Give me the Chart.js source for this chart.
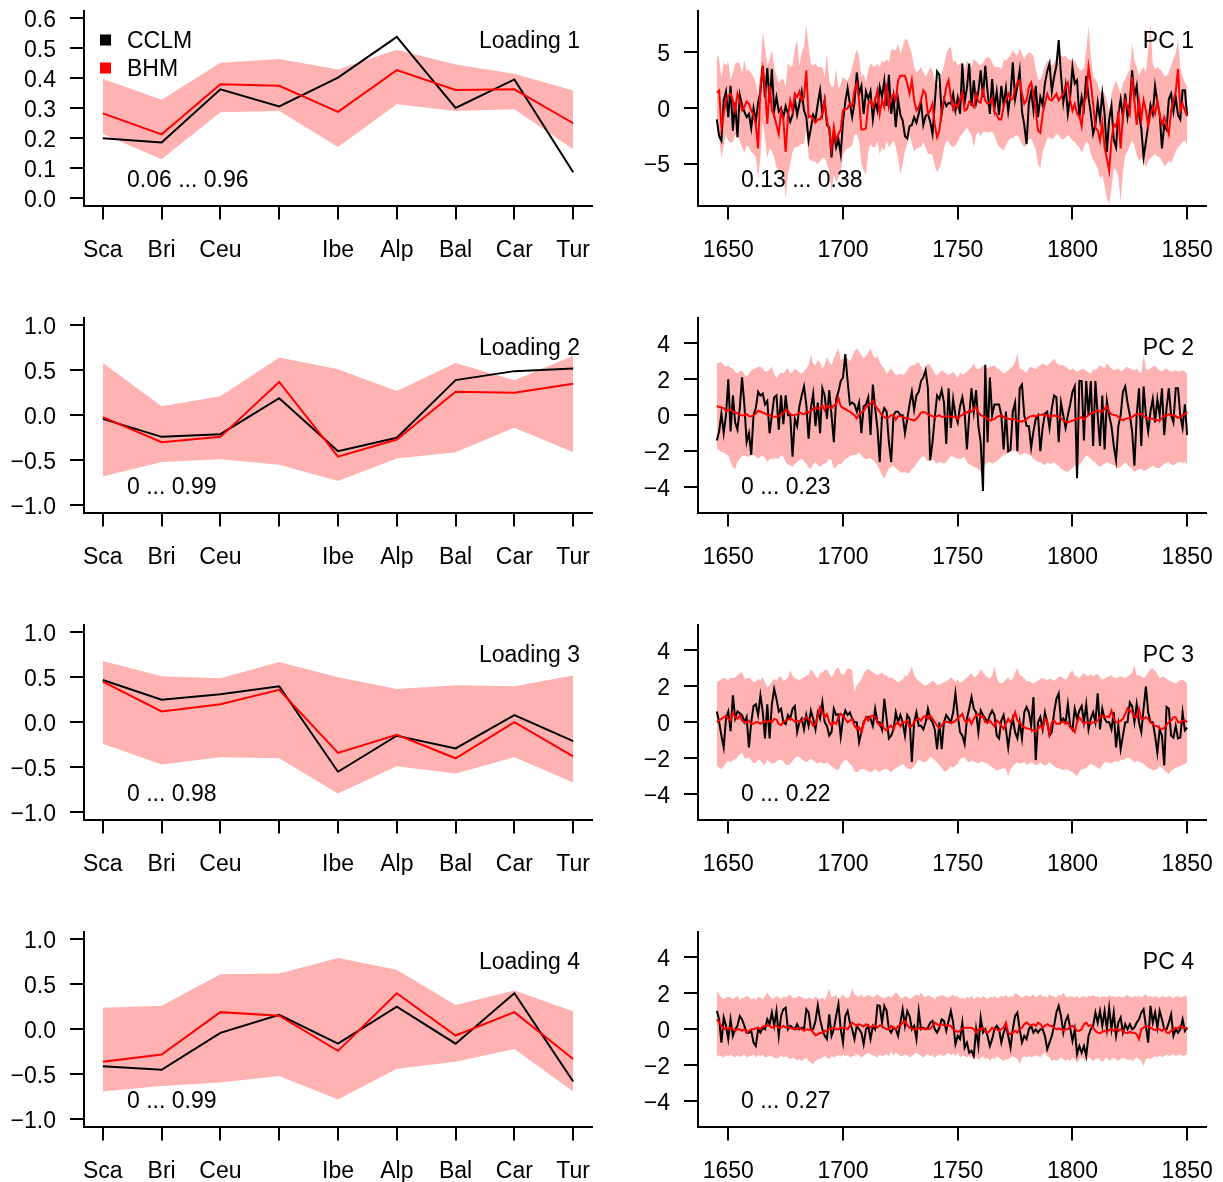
<!DOCTYPE html>
<html>
<head>
<meta charset="utf-8">
<title>Loadings and PCs</title>
<script src="https://cdn.jsdelivr.net/npm/chart.js@4.4.1/dist/chart.umd.min.js"></script>
<style>
  html, body { margin: 0; padding: 0; background: #fff; overflow: hidden; }
  #page { position: relative; width: 1223px; height: 1182px; }
  #page canvas { position: absolute; }
</style>
</head>
<body>
<div id="page"></div>
<script>
const regions = ['Sca', 'Bri', 'Ceu', '', 'Ibe', 'Alp', 'Bal', 'Car', 'Tur'];
const firstYear = 1645;
const lastYear = 1850;
const yearTicks = [1650, 1700, 1750, 1800, 1850];
const loading1Ticks = [0, 0.1, 0.2, 0.3, 0.4, 0.5, 0.6];
const loadingTicks = [-1, -0.5, 0, 0.5, 1];
const pc1Ticks = [-5, 0, 5];
const pcTicks = [-4, -2, 0, 2, 4];
const loadingRanges = ['0.06 ... 0.96', '0 ... 0.99', '0 ... 0.98', '0 ... 0.99'];
const pcRanges = ['0.13 ... 0.38', '0 ... 0.23', '0 ... 0.22', '0 ... 0.27'];

// loadings per region: CCLM, BHM mean, BHM band
const loading1Cclm = [0.200, 0.186, 0.363, 0.306, 0.402, 0.538, 0.301, 0.396, 0.087];
const loading1Bhm = [0.283, 0.213, 0.380, 0.375, 0.288, 0.427, 0.361, 0.363, 0.250];
const loading1Upper = [0.398, 0.328, 0.452, 0.464, 0.429, 0.495, 0.446, 0.415, 0.359];
const loading1Lower = [0.214, 0.130, 0.287, 0.291, 0.171, 0.313, 0.291, 0.297, 0.163];

const loading2Cclm = [-0.04, -0.24, -0.21, 0.19, -0.40, -0.25, 0.39, 0.49, 0.52];
const loading2Bhm = [-0.02, -0.30, -0.24, 0.37, -0.46, -0.27, 0.26, 0.25, 0.35];
const loading2Upper = [0.58, 0.10, 0.21, 0.64, 0.51, 0.27, 0.58, 0.39, 0.66];
const loading2Lower = [-0.68, -0.52, -0.49, -0.55, -0.73, -0.48, -0.41, -0.14, -0.41];

const loading3Cclm = [0.47, 0.25, 0.31, 0.40, -0.55, -0.15, -0.29, 0.08, -0.21];
const loading3Bhm = [0.45, 0.12, 0.20, 0.36, -0.34, -0.14, -0.40, 0.00, -0.38];
const loading3Upper = [0.68, 0.51, 0.49, 0.67, 0.50, 0.37, 0.41, 0.40, 0.52];
const loading3Lower = [-0.24, -0.47, -0.39, -0.40, -0.79, -0.49, -0.57, -0.39, -0.67];

const loading4Cclm = [-0.41, -0.45, -0.04, 0.16, -0.16, 0.25, -0.16, 0.40, -0.58];
const loading4Bhm = [-0.36, -0.28, 0.19, 0.15, -0.24, 0.40, -0.07, 0.19, -0.33];
const loading4Upper = [0.24, 0.26, 0.61, 0.62, 0.79, 0.66, 0.27, 0.43, 0.20];
const loading4Lower = [-0.69, -0.63, -0.59, -0.52, -0.78, -0.44, -0.36, -0.22, -0.69];

// principal components, one value per year 1645..1850
const pc1Cclm = [
  -1.0, -2.5, -2.9, 0.7, 1.5,
  -0.8, 2.0, -2.0, 0.5, -2.6, 1.2, 0.3, -0.3, -0.8, -0.5,
  -1.8, 0.0, -1.2, 0.5, 1.5, 3.8, 1.0, 3.6, 0.5, 3.5,
  -0.2, 1.0, -0.3, 0.0, -0.8, 0.2, -0.5, -1.2, -0.6, 0.8,
  -0.6, 0.4, 1.5, -0.2, -0.8, -2.9, -1.8, -0.6, -1.0, 0.4,
  1.6, -0.5, 0.7, -1.5, -1.7, -4.4, -2.0, -3.5, -2.8, -4.1,
  -1.2, 0.6, 1.8, 0.4, -0.8, 0.5, 3.2, 1.3, 2.0, -0.5,
  1.5, 0.8, 1.5, -1.0, 0.6, -0.2, 1.9, 1.0, 2.5, 0.2,
  3.0, -0.5, 1.0, -1.7, 0.8, -0.6, -1.1, -2.5, -2.7, -1.6,
  -1.5, -0.8, -1.3, -0.5, 0.5, -1.5, -0.7, -0.5, -1.2, -2.3,
  0.5, 3.3, 3.0, -0.5, 0.8, 0.2, 0.5, 0.4, 1.3, -0.2,
  0.9, -0.5, 4.0, 0.5, 1.8, 4.0, 0.2, 2.5, 0.5, 1.5,
  3.4, 1.0, 3.8, 1.5, -0.5, 2.6, 0.0, 1.5, -0.6, 2.0,
  0.3, 1.8, -0.3, 1.2, 4.1, 0.8, 2.0, 3.4, -0.3, -1.5,
  -3.2, 0.5, 1.5, -0.2, 2.0, -0.8, 1.0, 0.3, 2.2, 3.3,
  4.0, 1.5, 2.8, 3.8, 6.1, 3.0, 0.5, 2.0, -0.5, 1.0,
  3.7, 2.2, 2.5, -0.8, 1.0, 0.0, 2.9, 1.0, -0.5, -2.3,
  -1.5, 0.5, -1.0, 1.3, -0.5, -3.9, -1.0, 0.2, -2.8, -3.5,
  -0.5, 0.8, -0.8, 1.3, -0.8, 0.5, 3.4, 1.0, 2.0, -0.5,
  -1.8, -4.4, -3.0, -1.5, 0.3, -0.5, 2.0, 0.5, -0.5, -3.6,
  -1.5, -1.9, 0.8, 1.3, -0.3, 1.0, -0.6, -1.0, 1.6, 1.6,
  -0.7
];
const pc1Bhm = [
  1.4, 1.6, -1.7, -0.5, 0.7,
  1.1, 1.3, 0.7, -0.2, 1.3, 0.6, -0.2, 0.1, 0.6, 0.4,
  -0.2, -0.6, -1.5, -3.6, 1.9, 3.5, 1.9, -1.4, 2.0, -0.2,
  -0.6, -1.5, -2.3, -0.2, -1.0, -3.9, -0.8, 0.7, -0.2, 1.3,
  1.0, 1.5, 0.7, 1.0, 3.4, -0.8, -0.7, -1.0, -1.3, -1.0,
  -1.0, -0.5, 0.7, -1.1, -2.0, -3.6, -1.7, -2.9, -2.3, -1.9,
  -0.2, -0.1, 0.0, 0.4, 0.2, 1.6, 2.2, 0.7, -1.9, -1.9,
  -1.8, 0.4, 0.7, 0.1, 0.7, 1.6, -0.5, 0.7, 0.1, 2.2,
  0.1, 1.0, 1.3, 0.7, 2.5, 2.9, 2.9, 2.9, 2.2, 1.3,
  2.5, 0.7, -0.2, 0.1, 0.7, 1.6, 1.3, -0.5, -0.2, 0.4,
  -1.5, -2.6, -2.0, -0.2, 0.7, 1.9, 2.5, 1.0, -0.1, 0.4,
  0.1, 0.8, 1.4, -0.2, -0.1, 0.6, 0.4, 0.1, 1.3, 0.6,
  0.5, 1.6, 0.7, 0.4, 0.5, 0.9, -0.3, -0.6, -1.0, -1.0,
  0.2, 0.8, 1.3, 0.8, 0.8, 1.7, 2.3, 2.5, 1.3, 0.4,
  0.7, 1.9, 2.3, 1.3, -0.2, -2.0, -2.2, -0.5, 0.4, 1.3,
  0.8, 0.7, 1.0, 1.3, 0.7, 1.0, 1.3, 1.9, 2.3, 0.7,
  -0.2, 0.4, -0.5, -0.7, -1.6, 0.5, 1.0, 3.7, 2.2, 0.4,
  -1.7, -2.0, -2.9, -1.3, -3.5, -4.5, -5.6, -2.9, -1.4, -1.7,
  -0.5, -3.6, -0.5, 0.7, 0.1, -0.5, 2.8, 0.7, -1.5, 0.7,
  -1.0, 0.7, -0.2, -1.6, -0.5, 0.1, -0.5, 0.7, -0.6, -1.5,
  -0.8, -1.5, -2.3, -0.2, 0.7, 1.5, 3.5, -0.2, 0.4, -0.2,
  -0.7
];
const pc1Upper = [
  4.9, 4.3, 2.8, 4.1, 3.8,
  4.2, 2.6, 3.1, 4.0, 4.1, 4.0, 3.2, 4.3, 3.3, 3.5,
  3.1, 2.8, 2.3, 1.1, 3.4, 6.8, 5.5, 3.8, 4.3, 5.2,
  3.7, 2.9, 2.3, 2.6, 2.6, 1.9, 4.1, 3.7, 3.8, 5.2,
  6.1, 3.8, 5.0, 5.5, 7.4, 5.5, 4.0, 3.8, 4.0, 3.7,
  3.7, 3.7, 2.8, 4.9, 2.5, 1.9, 2.0, 3.5, 1.7, 2.2,
  2.8, 2.6, 2.5, 2.9, 3.7, 4.6, 5.3, 4.6, 2.8, 3.1,
  2.3, 3.5, 4.0, 3.8, 3.7, 4.0, 3.7, 4.3, 4.1, 4.4,
  4.1, 5.3, 5.2, 5.2, 5.8, 4.9, 5.5, 6.2, 6.1, 5.5,
  4.9, 3.7, 3.2, 3.4, 3.7, 3.2, 2.8, 3.2, 3.7, 3.4,
  2.5, 2.2, 2.0, 3.1, 3.8, 4.9, 5.3, 5.5, 4.1, 4.3,
  3.8, 4.0, 4.1, 3.5, 4.3, 3.8, 3.7, 4.4, 4.2, 4.0,
  3.8, 4.1, 4.4, 4.6, 4.5, 4.1, 3.7, 3.7, 3.7, 3.5,
  4.3, 4.3, 4.5, 4.7, 5.2, 4.9, 4.7, 5.4, 4.9, 4.4,
  4.8, 5.0, 4.9, 4.7, 3.5, 2.6, 2.5, 3.1, 3.8, 4.2,
  4.1, 3.8, 4.0, 4.6, 5.0, 4.7, 4.6, 4.7, 4.4, 4.3,
  4.4, 4.2, 3.8, 3.5, 3.3, 3.7, 5.2, 7.3, 4.7, 2.9,
  2.6, 2.2, 1.4, 1.6, 1.3, 0.7, -0.2, 1.3, 2.0, 2.5,
  1.9, 1.3, 2.3, 2.6, 3.1, 3.5, 5.8, 4.3, 3.7, 2.9,
  3.4, 3.7, 3.2, 5.2, 7.6, 4.0, 3.5, 3.7, 3.5, 3.3,
  2.9, 2.9, 3.2, 3.8, 4.4, 4.9, 6.2, 3.7, 2.8, 2.3,
  2.0
];
const pc1Lower = [
  -2.0, -2.7, -4.4, -3.3, -2.4,
  -2.9, -3.1, -3.0, -2.4, -2.3, -2.9, -3.5, -4.0, -3.3, -3.5,
  -3.9, -4.1, -4.4, -6.3, -4.4, -1.3, -2.6, -4.5, -3.6, -3.8,
  -4.4, -5.3, -5.6, -5.8, -5.9, -8.1, -5.9, -5.0, -3.9, -3.5,
  -3.5, -3.3, -3.2, -3.2, -1.9, -4.4, -4.7, -4.7, -4.8, -5.0,
  -4.7, -4.5, -4.4, -5.0, -5.6, -7.5, -5.9, -6.6, -6.2, -5.7,
  -4.2, -3.8, -3.6, -3.5, -3.3, -2.4, -2.3, -2.9, -5.0, -5.6,
  -5.9, -3.9, -3.2, -3.5, -3.5, -2.9, -4.1, -3.5, -3.8, -2.9,
  -3.5, -3.2, -2.9, -3.5, -4.5, -5.9, -5.0, -3.8, -3.2, -2.4,
  -3.2, -3.9, -3.6, -3.5, -3.5, -3.0, -3.5, -4.1, -4.1, -4.2,
  -5.1, -5.7, -5.4, -4.7, -3.6, -2.9, -3.0, -3.3, -3.5, -3.3,
  -3.0, -2.5, -2.3, -2.0, -1.7, -2.1, -2.4, -3.5, -2.4, -2.1,
  -2.5, -2.1, -2.1, -2.2, -2.1, -2.1, -2.4, -3.1, -3.4, -3.6,
  -3.8, -3.3, -2.9, -2.7, -2.7, -2.5, -2.4, -2.7, -3.2, -3.5,
  -3.3, -2.8, -2.7, -3.2, -3.7, -5.0, -5.4, -3.9, -3.3, -2.7,
  -2.6, -2.8, -2.6, -2.3, -2.4, -2.7, -2.8, -2.6, -2.4, -2.6,
  -2.9, -3.0, -3.3, -3.5, -4.0, -3.5, -3.0, -3.2, -4.1, -4.6,
  -5.0, -5.4, -6.3, -6.0, -6.9, -8.1, -8.6, -7.2, -5.4, -5.5,
  -6.2, -8.4, -5.7, -4.2, -3.9, -3.3, -2.9, -3.3, -4.2, -4.7,
  -4.4, -4.8, -5.3, -4.7, -4.5, -4.3, -4.1, -4.3, -4.4, -4.7,
  -5.2, -5.0, -4.7, -4.9, -4.4, -3.9, -3.5, -3.3, -3.0, -2.9,
  -3.3
];

const pc2Cclm = [
  -1.4, -0.9, 0.1, -1.0, 0.0,
  2.0, -0.9, 1.1, -0.4, -0.8, 0.4, 2.1, 0.6, -1.5, -1.0,
  -2.2, 0.0, 0.4, 1.3, 1.1, 1.2, 0.6, 0.8, -1.0, 0.0,
  1.0, 1.1, -0.8, 1.1, -0.5, 1.1, 0.0, 0.0, -2.3, -0.2,
  -0.6, 0.5, 1.1, 1.6, 0.6, -1.3, 0.4, 1.2, -0.6, 0.7,
  -1.0, 1.5, 1.1, -0.2, 1.4, 0.0, -1.5, 0.9, 1.3, 1.9,
  2.1, 3.4, 1.9, 0.6, 0.7, 0.6, 0.2, 0.7, -1.0, 0.5,
  0.6, 1.0, -1.1, 1.7, 0.4, -0.7, -2.6, 0.0, 0.4, 0.2,
  -1.5, -2.6, 0.0, 0.2, 0.2, 0.0, 0.0, -1.0, -0.2, 0.6,
  1.3, 0.3, 1.1, 1.3, 1.9, 2.1, 2.5, 1.5, -2.5, -1.5,
  -0.1, 1.1, 0.9, 1.4, 0.7, -1.6, 1.5, -0.7, 0.9, 0.0,
  -0.4, 0.5, 1.0, 0.2, -1.9, 0.0, 1.5, 0.2, 1.4, -0.6,
  -1.5, -4.2, 2.8, -1.5, 2.1, 0.0, 0.6, 0.6, 0.6, 0.0,
  -1.9, 0.2, -2.0, -1.9, 0.2, 0.7, -2.0, 1.5, 1.7, 0.0,
  -0.6, -0.6, -1.8, -0.9, -0.2, 0.0, -2.0, -0.7, 0.1, 0.2,
  -0.7, 0.4, 1.1, 1.0, -1.5, 0.7, 0.0, -0.7, 0.0, 0.6,
  1.3, 1.6, -3.5, 1.9, 1.9, -1.4, 1.9, 0.0, 1.9, -1.7,
  1.9, 0.0, -1.7, 1.1, -1.9, 0.8, 0.0, -0.6, -1.7, -2.5,
  -0.6, 0.0, 1.3, 1.6, 0.7, 0.0, -0.9, -2.8, 0.0, 1.5,
  -1.7, 1.6, 0.0, -0.9, 0.2, 0.9, -0.4, 0.9, 0.0, 1.5,
  -1.1, 0.4, 1.5, 0.0, -0.4, 1.5, 1.5, 0.0, -0.7, 0.6,
  -1.1
];
const pc2Bhm = [
  0.52, 0.46, 0.43, 0.40, 0.22,
  0.28, 0.33, 0.20, 0.17, 0.10, 0.02, 0.00, 0.00, 0.07, -0.05,
  -0.07, 0.00, 0.10, 0.25, 0.20, 0.15, 0.10, 0.02, 0.00, -0.05,
  -0.09, -0.09, -0.05, 0.05, 0.10, 0.30, 0.25, 0.05, 0.00, 0.02,
  0.05, 0.15, 0.10, 0.05, 0.18, 0.15, 0.25, 0.35, 0.42, 0.35,
  0.40, 0.55, 0.28, 0.55, 0.45, 0.38, 0.55, 0.60, 0.95, 0.50,
  0.40, 0.35, 0.25, 0.20, 0.10, 0.00, -0.18, 0.05, 0.15, 0.25,
  0.45, 0.55, 0.65, 0.80, 0.55, 0.35, 0.20, 0.00, -0.10, -0.18,
  -0.10, 0.00, 0.00, -0.25, -0.05, -0.05, -0.10, -0.15, -0.18, -0.20,
  -0.25, -0.30, -0.20, -0.05, 0.15, 0.18, 0.15, 0.05, 0.00, -0.05,
  -0.10, -0.05, 0.00, -0.10, -0.08, -0.05, -0.05, -0.08, -0.09, -0.09,
  -0.22, -0.05, 0.02, 0.10, 0.15, 0.25, 0.18, 0.35, 0.46, 0.15,
  0.00, -0.05, -0.10, -0.22, -0.28, -0.25, -0.20, -0.10, -0.05, 0.00,
  -0.10, -0.15, -0.20, -0.22, -0.18, -0.25, -0.30, -0.35, -0.35, -0.30,
  -0.20, -0.10, -0.05, -0.02, -0.08, 0.00, 0.02, 0.05, -0.02, 0.00,
  -0.05, -0.05, 0.00, -0.05, -0.05, -0.18, -0.30, -0.35, -0.40, -0.35,
  -0.30, -0.25, -0.20, -0.15, -0.10, -0.25, -0.10, 0.00, 0.10, 0.15,
  0.20, 0.28, 0.20, 0.20, 0.35, 0.50, 0.20, 0.05, 0.02, 0.00,
  -0.10, -0.20, -0.28, -0.20, -0.18, -0.15, -0.10, 0.00, 0.05, 0.05,
  0.10, -0.05, -0.10, -0.18, -0.18, -0.20, -0.25, -0.28, -0.30, -0.15,
  -0.05, 0.00, 0.05, 0.00, 0.00, -0.05, -0.15, -0.10, 0.00, 0.05,
  0.18
];
const pc2Upper = [
  2.87, 2.93, 2.96, 2.78, 2.69,
  2.78, 2.63, 2.59, 2.41, 2.31, 2.44, 2.50, 2.26, 2.13, 2.31,
  2.50, 2.56, 2.63, 2.69, 2.69, 2.59, 2.41, 2.44, 2.54, 2.69,
  2.31, 2.04, 2.26, 2.37, 2.31, 2.50, 2.63, 2.31, 2.41, 2.59,
  2.50, 2.37, 2.31, 2.44, 2.59, 2.78, 3.37, 2.87, 2.78, 3.06,
  2.96, 2.59, 2.78, 3.24, 2.96, 2.78, 3.15, 3.48, 3.70, 3.06,
  3.15, 3.30, 3.15, 3.00, 3.24, 3.56, 3.70, 3.56, 3.33, 3.15,
  3.30, 3.48, 3.70, 3.37, 3.15, 3.30, 2.96, 2.74, 2.59, 2.31,
  2.44, 2.59, 2.41, 2.22, 2.26, 2.31, 2.22, 2.31, 2.50, 2.69,
  2.78, 2.78, 2.87, 2.96, 2.69, 2.44, 2.69, 2.87, 2.78, 2.56,
  2.31, 2.22, 2.37, 2.50, 2.41, 2.31, 2.22, 2.31, 2.41, 2.26,
  2.07, 2.37, 2.26, 2.31, 2.41, 2.56, 2.67, 2.87, 2.59, 2.56,
  2.63, 2.78, 2.69, 2.59, 2.69, 2.74, 2.78, 2.63, 2.56, 2.44,
  2.31, 2.41, 2.50, 2.63, 2.74, 2.96, 3.43, 2.59, 2.56, 2.44,
  2.37, 2.59, 2.69, 2.63, 2.56, 2.69, 2.78, 2.87, 2.81, 2.74,
  2.87, 3.00, 3.15, 2.93, 2.81, 2.78, 2.78, 2.69, 2.59, 2.50,
  2.59, 2.50, 2.41, 2.50, 2.56, 2.59, 2.44, 2.37, 2.31, 2.56,
  2.50, 2.63, 2.78, 2.69, 2.59, 2.87, 2.74, 2.59, 2.50, 2.56,
  2.59, 2.44, 2.50, 2.63, 2.69, 2.59, 2.56, 2.50, 2.59, 2.41,
  2.31, 3.33, 2.59, 2.50, 2.63, 2.69, 2.78, 2.59, 2.50, 2.41,
  2.56, 2.59, 2.50, 2.41, 2.44, 2.50, 2.41, 2.44, 2.50, 2.41,
  2.31
];
const pc2Lower = [
  -1.85, -1.94, -2.04, -2.07, -2.19,
  -2.22, -2.59, -2.87, -3.00, -2.59, -2.41, -2.26, -2.22, -2.31, -2.31,
  -2.22, -2.19, -2.31, -2.41, -2.31, -2.22, -2.37, -2.59, -2.44, -2.41,
  -2.41, -2.37, -2.41, -2.22, -2.31, -2.59, -2.74, -2.78, -2.87, -2.69,
  -2.59, -2.50, -2.41, -2.56, -2.69, -2.93, -2.96, -2.74, -2.59, -2.78,
  -2.87, -2.74, -2.69, -2.59, -2.41, -2.50, -2.96, -2.87, -2.69, -2.74,
  -2.59, -2.41, -2.37, -2.26, -2.22, -2.22, -2.19, -2.07, -2.22, -2.37,
  -2.44, -2.41, -2.37, -2.50, -2.59, -2.78, -3.06, -3.30, -3.52, -3.19,
  -2.96, -2.87, -2.81, -2.96, -3.06, -3.15, -3.19, -3.15, -3.24, -3.19,
  -3.00, -2.87, -2.69, -2.50, -2.37, -2.26, -2.37, -2.59, -2.50, -2.41,
  -2.59, -2.69, -2.59, -2.63, -2.69, -2.59, -2.41, -2.26, -2.31, -2.37,
  -2.41, -2.44, -2.37, -2.31, -2.59, -2.74, -2.78, -2.87, -2.93, -3.00,
  -3.15, -2.93, -2.74, -2.63, -2.59, -2.69, -2.63, -2.56, -2.44, -2.31,
  -2.22, -2.15, -2.11, -2.04, -2.00, -1.94, -2.04, -2.19, -2.22, -2.07,
  -2.15, -2.19, -2.26, -2.41, -2.50, -2.59, -2.59, -2.69, -2.78, -2.63,
  -2.69, -2.69, -2.59, -2.74, -2.81, -2.96, -3.06, -3.11, -3.15, -3.06,
  -2.93, -2.78, -2.87, -2.74, -2.59, -2.41, -2.22, -2.31, -2.41, -2.56,
  -2.63, -2.78, -2.87, -2.78, -2.69, -2.59, -2.67, -2.74, -2.78, -2.87,
  -2.96, -2.87, -2.74, -2.63, -2.74, -2.87, -3.00, -3.15, -3.06, -3.00,
  -2.96, -3.11, -3.06, -2.96, -2.89, -2.81, -2.87, -2.96, -2.93, -2.81,
  -2.70, -2.63, -2.59, -2.74, -2.78, -2.70, -2.63, -2.59, -2.67, -2.59,
  -2.74
];

const pc3Cclm = [
  0.6, 0.0, -0.74, -1.4, 0.2,
  0.6, -0.5, 1.5, 0.2, 0.6, 0.5, 0.4, 0.0, 0.3, -1.4,
  0.0, 0.9, 1.0, 0.4, 1.5, 0.6, -0.9, 1.0, -0.9, 1.0,
  1.85, 1.3, 0.6, 0.75, 0.0, -0.1, 0.4, 0.2, 0.75, 0.9,
  -0.55, 0.0, 0.2, -0.4, 0.4, -0.2, 0.65, 0.2, -0.4, 0.55,
  0.2, 1.1, 0.0, -0.2, -0.74, -0.55, 0.75, 0.4, 0.45, -0.8,
  0.2, 0.65, 0.4, 0.55, 0.2, 0.0, 0.0, -1.1, -0.55, 0.0,
  0.2, 0.3, 0.2, -0.2, 0.75, 0.0, 0.0, -0.4, 1.3, 0.2,
  -0.9, -0.74, -0.4, 0.55, 0.0, 0.4, 0.0, -0.74, 0.4, 0.2,
  -2.2, 0.0, 0.55, -0.2, -0.2, -0.4, 0.0, 0.75, 0.2, 0.0,
  -0.4, -1.5, 0.0, -1.5, 0.0, 0.4, 0.2, 0.0, 0.55, 1.6,
  0.4, -0.55, -0.74, -1.2, 0.2, 0.75, 1.4, 0.75, 0.55, -0.55,
  0.65, 0.4, 0.2, 0.0, 0.4, 0.65, 0.4, -0.74, -0.9, 0.1,
  0.4, -0.4, -1.4, -0.4, 0.2, -0.55, -0.9, 0.0, -0.9, 0.55,
  0.85, 0.55, -0.2, 1.4, -2.1, 0.0, 0.3, -0.4, 0.55, 0.0,
  -0.74, -0.55, 0.55, 1.3, 1.6, 0.0, 0.2, 0.0, 1.0, -0.2,
  -0.4, 0.75, 0.2, 0.65, 0.9, 0.0, 1.0, -0.4, 0.2, 0.55,
  0.0, 1.6, -0.4, 0.75, 0.2, 0.0, 0.0, -0.4, 0.55, -1.4,
  -0.2, -1.5, -0.74, 0.0, 0.0, 1.1, 0.9, 0.0, 1.0, 0.0,
  -0.55, 0.75, 2.0, 0.55, 0.0, 0.0, -0.74, -1.7, -0.4, -0.74,
  -2.4, 0.85, 0.75, -0.74, -0.85, -0.2, -0.9, -0.85, 0.55, -0.45,
  -0.3
];
const pc3Bhm = [
  0.00, 0.09, 0.19, 0.28, 0.37,
  0.19, 0.09, 0.55, 0.28, 0.19, 0.37, 0.09, 0.00, 0.00, 0.09,
  -0.09, -0.09, 0.00, 0.00, -0.09, 0.00, 0.09, 0.00, 0.09, 0.00,
  0.19, 0.15, -0.09, -0.15, 0.00, 0.09, 0.15, 0.22, 0.15, 0.04,
  0.09, 0.00, 0.09, 0.19, 0.28, 0.19, 0.04, -0.19, -0.09, 0.37,
  0.83, 0.55, 0.28, 0.46, 0.00, -0.19, 0.00, -0.09, 0.28, 0.46,
  0.37, 0.19, 0.00, 0.09, 0.19, -0.19, -0.37, -0.28, -0.55, -0.09,
  0.28, 0.09, 0.33, 0.37, 0.28, 0.00, -0.19, -0.09, -0.37, -0.46,
  -0.28, -0.19, -0.37, -0.09, 0.00, -0.22, 0.00, 0.00, 0.09, -0.28,
  -0.19, 0.00, 0.15, 0.22, 0.09, 0.28, 0.37, 0.19, 0.37, 0.19,
  0.00, -0.19, -0.33, -0.19, 0.00, 0.04, 0.00, -0.04, 0.00, 0.09,
  0.22, 0.33, 0.46, 0.09, 0.00, 0.19, -0.09, 0.19, 0.37, 0.46,
  0.28, 0.33, 0.00, 0.00, 0.09, -0.09, -0.22, 0.09, 0.00, -0.19,
  -0.37, -0.09, 0.19, 0.00, 0.19, 0.55, 0.09, 0.00, -0.19, -0.28,
  -0.33, -0.37, -0.41, -0.46, -0.52, -0.37, -0.19, -0.37, 0.19, 0.00,
  -0.65, 0.00, 0.09, -0.09, -0.09, 0.00, 0.04, -0.09, 0.00, -0.28,
  -0.37, -0.55, 0.00, 0.28, 0.09, -0.09, 0.00, 0.00, -0.09, 0.00,
  0.00, 0.09, 0.28, 0.37, 0.28, 0.33, 0.28, 0.65, 0.19, 0.00,
  0.00, 0.09, 0.19, 0.46, 0.78, 0.65, 0.55, 0.28, 0.28, 0.74,
  0.19, 0.19, 0.28, 0.19, 0.00, -0.09, -0.19, -0.22, -0.33, -0.37,
  -0.33, -0.15, 0.00, 0.09, 0.28, 0.28, 0.00, 0.00, 0.09, 0.10,
  0.00
];
const pc3Upper = [
  2.22, 2.30, 2.37, 2.48, 2.41,
  2.33, 2.48, 2.44, 2.50, 2.59, 2.74, 2.78, 2.44, 2.41, 2.50,
  2.37, 2.22, 2.26, 2.41, 2.31, 2.50, 2.22, 1.94, 2.04, 2.26,
  2.41, 2.31, 2.50, 2.56, 2.31, 2.37, 2.50, 2.87, 2.59, 2.44,
  2.41, 2.31, 2.44, 2.50, 2.59, 2.63, 2.93, 2.81, 2.56, 2.44,
  2.69, 2.78, 2.87, 2.96, 2.69, 2.50, 2.69, 2.96, 3.06, 2.74,
  2.63, 2.78, 3.00, 2.96, 2.87, 1.67, 2.04, 2.22, 2.37, 2.69,
  2.87, 2.96, 2.87, 2.78, 2.69, 2.63, 2.69, 2.78, 2.63, 2.59,
  2.44, 2.50, 2.41, 2.31, 2.22, 2.30, 2.37, 2.59, 2.56, 2.78,
  3.11, 2.59, 2.41, 2.31, 2.19, 2.07, 2.04, 2.11, 2.19, 2.30,
  2.22, 2.07, 2.11, 2.15, 2.22, 2.28, 2.37, 2.50, 2.37, 2.22,
  2.37, 2.19, 2.26, 2.37, 2.50, 2.59, 2.74, 2.50, 2.56, 2.69,
  2.96, 2.78, 2.63, 2.50, 2.41, 2.59, 3.11, 2.50, 2.22, 2.15,
  2.22, 2.37, 2.48, 2.33, 2.41, 2.78, 3.00, 2.63, 2.56, 2.44,
  2.26, 2.30, 2.22, 2.15, 2.22, 2.31, 2.41, 2.44, 2.41, 2.33,
  2.41, 2.37, 2.31, 2.41, 2.50, 2.56, 2.44, 2.37, 2.50, 2.78,
  2.87, 2.59, 2.56, 2.44, 2.59, 2.74, 2.59, 2.56, 2.67, 2.56,
  2.63, 2.69, 2.50, 2.37, 2.41, 2.50, 2.56, 2.59, 2.48, 2.44,
  2.50, 2.56, 2.50, 2.44, 2.56, 2.63, 2.78, 3.15, 2.59, 2.63,
  2.56, 2.44, 2.56, 2.78, 2.96, 3.00, 2.87, 2.69, 2.44, 2.52,
  2.50, 2.41, 2.33, 2.26, 2.19, 2.15, 2.26, 2.33, 2.37, 2.26,
  2.15
];
const pc3Lower = [
  -2.41, -2.52, -2.59, -2.44, -2.26,
  -2.15, -2.22, -2.11, -2.04, -1.96, -1.81, -1.70, -2.00, -2.00, -1.94,
  -2.13, -2.26, -2.26, -2.07, -2.13, -2.31, -2.37, -2.07, -2.19, -2.30,
  -2.26, -2.19, -2.07, -2.11, -2.15, -2.37, -2.37, -2.30, -2.15, -2.00,
  -1.89, -1.93, -2.04, -2.15, -2.22, -2.11, -2.04, -2.11, -2.22, -2.30,
  -2.22, -2.26, -2.31, -2.22, -2.33, -2.44, -2.56, -2.63, -2.69, -2.37,
  -2.22, -2.07, -2.15, -2.30, -2.41, -2.74, -2.78, -2.70, -2.59, -2.59,
  -2.65, -2.70, -2.78, -2.70, -2.59, -2.69, -2.78, -2.67, -2.59, -2.59,
  -2.69, -2.78, -2.65, -2.56, -2.48, -2.41, -2.30, -2.44, -2.56, -2.59,
  -2.59, -2.44, -2.26, -2.07, -2.15, -2.22, -2.19, -2.11, -1.93, -2.00,
  -2.11, -2.22, -2.37, -2.52, -2.74, -2.70, -2.59, -2.44, -2.52, -2.41,
  -2.30, -2.04, -2.00, -1.94, -2.13, -2.22, -2.13, -2.19, -2.22, -2.30,
  -2.19, -2.19, -2.26, -2.31, -2.41, -2.50, -2.59, -2.69, -2.63, -2.59,
  -2.52, -2.59, -3.00, -2.59, -2.44, -2.30, -2.22, -2.30, -2.26, -2.22,
  -2.37, -2.30, -2.22, -2.30, -2.37, -2.37, -2.22, -2.33, -2.41, -2.33,
  -2.22, -2.33, -2.44, -2.52, -2.56, -2.59, -2.67, -2.63, -2.63, -2.70,
  -2.78, -2.89, -3.00, -2.74, -2.63, -2.59, -2.52, -2.41, -2.31, -2.37,
  -2.44, -2.52, -2.59, -2.37, -2.22, -2.22, -2.26, -2.30, -2.19, -2.15,
  -2.22, -2.07, -2.11, -2.04, -1.96, -2.00, -2.11, -2.22, -2.15, -2.19,
  -2.26, -2.31, -2.44, -2.52, -2.59, -2.67, -2.67, -2.59, -2.44, -2.52,
  -2.67, -2.78, -2.87, -2.70, -2.59, -2.54, -2.48, -2.44, -2.37, -2.31,
  -2.22
];

const pc4Cclm = [
  1.02, 0.55, -0.74, 0.65, 0.19,
  -0.55, 0.55, -0.37, 0.00, 0.19, 0.74, 0.55, 0.19, -0.19, -0.19,
  -0.09, -0.74, -0.93, 0.00, -0.19, 0.09, 0.00, 0.55, 0.28, 0.93,
  0.19, 1.02, -0.37, 0.74, 1.11, 1.20, 0.00, 0.19, 0.09, 0.00,
  0.28, 0.00, 0.09, 0.00, 1.11, 0.93, 0.00, 0.00, 0.46, 1.33,
  0.55, 0.00, -0.37, -0.55, 0.83, -0.37, 0.00, 0.74, 1.39, 0.00,
  -0.74, 0.74, 1.02, 0.37, 0.00, -0.55, 0.19, 0.00, -0.19, -0.83,
  0.00, 0.19, -0.55, 0.19, 0.00, 1.33, 1.30, 0.37, 1.30, 1.02,
  0.00, -0.19, 0.09, 0.00, -0.37, 0.37, 1.11, 0.19, 1.02, 0.74,
  0.00, 0.19, -0.55, 1.02, 0.00, 0.09, 0.00, 0.09, 0.37, 0.46,
  0.00, -0.19, 0.09, 0.55, 0.46, -0.09, 0.46, 1.02, 0.37, -0.83,
  -0.37, -0.55, 0.37, -1.02, -0.74, -1.30, -1.20, -1.48, 0.00, -0.93,
  0.65, -0.19, 0.00, -0.37, -0.93, -0.55, 0.00, 0.19, 0.00, -0.74,
  -0.19, 0.19, -0.37, -1.02, 0.00, 0.74, 0.93, 0.00, -0.74, -0.37,
  -0.55, 0.00, 0.19, -0.19, 0.00, -0.19, 0.00, 0.00, -0.37, -1.11,
  -0.74, -0.37, 0.19, 0.93, 1.30, 0.74, -0.19, 0.46, 0.74, 0.09,
  -0.65, 0.00, -1.39, -0.93, -1.30, -0.93, -1.48, -0.37, 0.00, 0.19,
  0.93, 0.37, 1.02, 0.19, 1.02, 0.00, 1.20, 0.00, 0.93, -0.37,
  0.37, 0.65, -0.19, 0.28, 0.00, 0.28, 0.00, 0.09, 0.37, 0.55,
  0.93, 1.11, 0.19, -0.74, 1.30, 0.37, 0.93, 0.09, 1.02, 0.55,
  0.00, 0.00, 0.37, 0.83, -0.37, 0.00, -0.19, 0.00, 0.55, -0.09,
  0.10
];
const pc4Bhm = [
  0.55, 0.37, 0.19, 0.00, 0.09,
  0.00, 0.09, 0.00, -0.09, 0.00, 0.00, -0.09, 0.00, -0.19, -0.09,
  0.00, 0.00, 0.04, 0.09, 0.00, 0.15, 0.19, 0.22, 0.19, 0.09,
  0.15, 0.19, 0.09, 0.09, 0.19, 0.09, 0.13, 0.07, 0.04, 0.00,
  0.00, 0.07, 0.00, -0.09, 0.00, -0.04, 0.00, -0.19, -0.33, -0.28,
  -0.19, -0.22, -0.09, -0.09, 0.00, 0.04, 0.09, 0.00, 0.00, 0.09,
  0.04, 0.09, 0.00, 0.19, 0.37, 0.28, 0.19, 0.28, 0.22, 0.15,
  0.28, 0.19, 0.09, 0.19, 0.19, 0.09, 0.22, 0.19, 0.07, 0.00,
  0.00, 0.19, 0.09, 0.00, 0.19, 0.22, 0.37, 0.46, 0.22, 0.09,
  0.04, 0.00, -0.04, 0.09, 0.00, 0.04, 0.04, 0.00, 0.04, 0.19,
  0.37, 0.28, 0.19, 0.28, 0.22, 0.19, 0.22, 0.19, 0.00, -0.09,
  -0.15, -0.09, 0.04, 0.09, 0.09, 0.09, 0.09, 0.00, -0.19, 0.00,
  0.00, 0.09, -0.09, -0.19, -0.09, 0.09, 0.00, 0.00, -0.09, 0.00,
  0.09, 0.37, -0.19, -0.28, -0.19, -0.09, -0.19, 0.00, 0.09, 0.28,
  0.37, 0.28, 0.19, 0.28, 0.19, 0.37, 0.28, 0.09, 0.19, 0.28,
  0.19, 0.19, 0.09, 0.00, 0.04, 0.00, -0.09, 0.00, 0.00, 0.15,
  0.19, 0.09, -0.09, -0.09, 0.00, 0.28, 0.37, 0.19, 0.22, 0.09,
  -0.09, -0.19, -0.22, -0.15, -0.09, -0.15, -0.04, 0.00, -0.09, 0.04,
  -0.09, 0.00, -0.09, -0.19, -0.22, -0.15, -0.19, -0.19, -0.28, -0.55,
  0.00, 0.09, 0.19, 0.15, 0.09, 0.00, -0.04, 0.00, 0.00, -0.09,
  0.04, -0.19, -0.22, -0.09, 0.00, 0.09, 0.04, 0.19, 0.09, 0.09,
  -0.05
];
const pc4Upper = [
  2.13, 1.94, 1.76, 1.67, 1.76,
  1.80, 1.76, 1.67, 1.76, 1.85, 1.63, 1.72, 1.76, 1.85, 1.80,
  1.67, 1.72, 1.63, 1.80, 1.76, 1.67, 1.85, 2.04, 1.85, 1.67,
  1.72, 1.85, 1.76, 1.67, 1.80, 1.76, 1.85, 1.94, 1.76, 1.72,
  1.80, 1.85, 1.76, 1.72, 1.67, 1.76, 1.72, 1.67, 1.85, 1.72,
  1.67, 1.76, 1.63, 1.85, 2.26, 1.76, 1.85, 1.90, 1.67, 1.80,
  1.94, 1.76, 1.72, 1.85, 2.26, 1.94, 1.85, 1.80, 1.94, 1.76,
  1.85, 1.90, 1.85, 1.76, 1.85, 1.94, 1.85, 1.76, 1.72, 1.80,
  1.85, 1.76, 1.90, 2.04, 1.94, 1.76, 1.72, 1.85, 1.80, 1.67,
  1.76, 1.85, 1.94, 1.85, 2.04, 1.85, 1.76, 1.90, 1.85, 1.76,
  1.67, 1.80, 1.85, 1.90, 1.85, 1.80, 1.76, 1.85, 1.90, 1.80,
  1.85, 1.70, 1.76, 1.67, 1.80, 1.72, 1.85, 1.67, 1.76, 1.80,
  1.72, 1.85, 1.76, 1.67, 1.80, 1.76, 1.85, 1.72, 1.76, 1.85,
  1.80, 1.90, 1.76, 1.85, 1.80, 2.00, 1.94, 1.85, 1.76, 1.85,
  1.90, 1.80, 1.85, 1.94, 1.76, 1.85, 1.94, 1.80, 1.85, 1.76,
  1.94, 1.85, 1.80, 1.72, 1.94, 1.85, 2.04, 1.85, 1.76, 1.85,
  1.80, 1.76, 1.85, 1.72, 1.80, 1.85, 1.76, 1.85, 1.80, 1.90,
  1.80, 1.85, 1.72, 1.85, 1.80, 1.76, 1.90, 1.80, 1.85, 1.76,
  1.85, 1.80, 1.76, 1.85, 1.90, 1.80, 1.76, 1.85, 1.80, 1.85,
  1.76, 1.85, 1.94, 1.80, 1.85, 1.76, 1.85, 1.80, 1.72, 1.85,
  1.80, 1.76, 1.85, 1.80, 1.72, 1.80, 1.85, 1.76, 1.80, 1.85,
  1.80
];
const pc4Lower = [
  -1.57, -1.44, -1.50, -1.57, -1.44,
  -1.48, -1.41, -1.50, -1.57, -1.44, -1.53, -1.48, -1.39, -1.57, -1.50,
  -1.48, -1.39, -1.57, -1.44, -1.50, -1.41, -1.57, -1.53, -1.48, -1.50,
  -1.57, -1.63, -1.57, -1.48, -1.57, -1.50, -1.57, -1.67, -1.57, -1.63,
  -1.72, -1.67, -1.76, -1.67, -1.59, -1.76, -1.85, -1.94, -1.76, -1.67,
  -1.67, -1.57, -1.50, -1.57, -1.67, -1.48, -1.57, -1.48, -1.44, -1.53,
  -1.39, -1.48, -1.44, -1.57, -1.50, -1.48, -1.39, -1.44, -1.57, -1.48,
  -1.39, -1.30, -1.39, -1.44, -1.48, -1.57, -1.41, -1.50, -1.44, -1.39,
  -1.48, -1.22, -1.44, -1.30, -1.39, -1.48, -1.50, -1.39, -1.44, -1.57,
  -1.48, -1.39, -1.30, -1.39, -1.48, -1.57, -1.44, -1.39, -1.50, -1.44,
  -1.57, -1.48, -1.39, -1.44, -1.50, -1.39, -1.30, -1.44, -1.35, -1.48,
  -1.30, -1.57, -1.44, -1.50, -1.57, -1.48, -1.57, -1.67, -1.50, -1.72,
  -1.57, -1.50, -1.67, -1.57, -1.76, -1.57, -1.67, -1.50, -1.57, -1.67,
  -1.76, -1.67, -1.67, -1.57, -1.50, -1.57, -1.63, -1.94, -1.57, -1.50,
  -1.57, -1.48, -1.57, -1.50, -1.44, -1.50, -1.57, -1.39, -1.30, -1.48,
  -1.57, -1.76, -1.67, -1.76, -1.67, -1.57, -1.67, -1.76, -1.67, -1.76,
  -1.57, -1.67, -1.85, -1.67, -1.57, -1.67, -1.76, -1.57, -1.67, -1.76,
  -1.67, -1.59, -1.67, -1.85, -1.67, -1.57, -1.76, -1.67, -1.57, -1.67,
  -1.76, -1.67, -1.57, -1.63, -1.72, -1.67, -1.76, -1.67, -1.57, -1.67,
  -1.76, -2.04, -1.67, -1.59, -1.67, -1.57, -1.50, -1.57, -1.44, -1.57,
  -1.48, -1.39, -1.50, -1.44, -1.39, -1.48, -1.44, -1.39, -1.50, -1.44,
  -1.39
];

const years = [];
for (let y = firstYear; y <= lastYear; y++) years.push(y);
const regionPos = regions.map((r, i) => i + 1);

const FONT = { family: "'Liberation Sans', Arial, Helvetica, sans-serif", size: 23 };
const BAND = 'rgba(255, 0, 0, 0.3)';
const CANVAS_H = 261;

function fmtTick(v, decimals) {
  const s = Math.abs(v).toFixed(decimals);
  return v < 0 ? '\u2212' + s : s;
}

const panelText = {
  id: 'panelText',
  afterDatasetsDraw(chart, args, opts) {
    const ctx = chart.ctx;
    const a = chart.chartArea;
    ctx.save();
    ctx.font = FONT.size + 'px ' + FONT.family;
    ctx.fillStyle = '#000';
    ctx.textBaseline = 'middle';
    ctx.textAlign = 'right';
    ctx.fillText(opts.title, a.right - 12, a.top + 31);
    ctx.textAlign = 'left';
    ctx.fillText(opts.range, a.left + 43, a.bottom - 25);
    if (opts.legend) {
      [['CCLM', '#000000', 29], ['BHM', '#ff0000', 57]].forEach(function (l) {
        ctx.fillStyle = l[1];
        ctx.fillRect(a.left + 16, a.top + l[2] - 5.5, 11, 11);
        ctx.fillStyle = '#000';
        ctx.fillText(l[0], a.left + 43, a.top + l[2] + 2);
      });
    }
    ctx.restore();
  }
};

function makePanel(p) {
  const page = document.getElementById('page');
  const canvas = document.createElement('canvas');
  canvas.width = p.width;
  canvas.height = CANVAS_H;
  canvas.style.left = p.left + 'px';
  canvas.style.top = p.top + 'px';
  canvas.style.width = p.width + 'px';
  canvas.style.height = CANVAS_H + 'px';
  page.appendChild(canvas);

  const pts = vals => vals.map((v, i) => ({ x: p.xs[i], y: v }));
  const axisGrid = { drawOnChartArea: false, drawTicks: true, tickLength: 14, color: '#000', lineWidth: 2 };
  const axisBorder = { display: true, color: '#000', width: 2 };

  new Chart(canvas, {
    type: 'line',
    data: {
      datasets: [
        { label: 'BHM', data: pts(p.bhm), borderColor: '#ff0000', borderWidth: 2, pointRadius: 0, fill: false },
        { label: 'CCLM', data: pts(p.cclm), borderColor: '#000000', borderWidth: 2, pointRadius: 0, fill: false },
        { label: 'upper', data: pts(p.upper), borderColor: 'rgba(0,0,0,0)', borderWidth: 1, pointRadius: 0, backgroundColor: BAND, fill: '+1' },
        { label: 'lower', data: pts(p.lower), borderColor: 'rgba(0,0,0,0)', borderWidth: 1, pointRadius: 0, fill: false }
      ]
    },
    options: {
      responsive: false,
      animation: false,
      devicePixelRatio: 1,
      events: [],
      layout: { padding: { left: 0, right: p.padRight, top: 11, bottom: 0 } },
      elements: { line: { tension: 0 } },
      plugins: {
        legend: { display: false },
        tooltip: { enabled: false },
        panelText: { title: p.title, range: p.range, legend: p.legend }
      },
      scales: {
        x: {
          type: 'linear',
          position: 'bottom',
          min: p.xMin,
          max: p.xMax,
          afterBuildTicks: s => { s.ticks = p.xTicks.map(v => ({ value: v })); },
          afterFit: s => { s.height = CANVAS_H - 205.5; s.paddingLeft = 0; s.paddingRight = 0; },
          ticks: { autoSkip: false, maxRotation: 0, padding: 17, color: '#000', font: FONT, callback: p.xLabel },
          grid: axisGrid,
          border: axisBorder
        },
        y: {
          type: 'linear',
          position: 'left',
          min: p.yMin,
          max: p.yMax,
          afterBuildTicks: s => { s.ticks = p.yTicks.map(v => ({ value: v })); },
          afterFit: s => { s.width = p.axisWidth; s.paddingTop = 0; s.paddingBottom = 0; },
          ticks: { autoSkip: false, padding: 14, labelOffset: 2, color: '#000', font: FONT, callback: v => fmtTick(v, p.decimals) },
          grid: axisGrid,
          border: axisBorder
        }
      }
    },
    plugins: [panelText]
  });
}

const loadings = [
  [loading1Cclm, loading1Bhm, loading1Upper, loading1Lower, loading1Ticks, -0.024, 0.624],
  [loading2Cclm, loading2Bhm, loading2Upper, loading2Lower, loadingTicks, -1.08, 1.08],
  [loading3Cclm, loading3Bhm, loading3Upper, loading3Lower, loadingTicks, -1.08, 1.08],
  [loading4Cclm, loading4Bhm, loading4Upper, loading4Lower, loadingTicks, -1.08, 1.08]
];
const pcs = [
  [pc1Cclm, pc1Bhm, pc1Upper, pc1Lower, pc1Ticks, -8.7, 8.7],
  [pc2Cclm, pc2Bhm, pc2Upper, pc2Lower, pcTicks, -5.4, 5.4],
  [pc3Cclm, pc3Bhm, pc3Upper, pc3Lower, pcTicks, -5.4, 5.4],
  [pc4Cclm, pc4Bhm, pc4Upper, pc4Lower, pcTicks, -5.4, 5.4]
];

loadings.forEach((d, i) => makePanel({
  left: 0, top: 307 * i, width: 611, padRight: 19, axisWidth: 84,
  xs: regionPos, xMin: 0.68, xMax: 9.32, xTicks: regionPos,
  xLabel: v => regions[Math.round(v) - 1],
  cclm: d[0], bhm: d[1], upper: d[2], lower: d[3],
  yTicks: d[4], yMin: d[5], yMax: d[6], decimals: 1,
  title: 'Loading ' + (i + 1), range: loadingRanges[i], legend: i === 0
}));

pcs.forEach((d, i) => makePanel({
  left: 611, top: 307 * i, width: 612, padRight: 17, axisWidth: 87,
  xs: years, xMin: 1636.8, xMax: 1858.2, xTicks: yearTicks,
  xLabel: v => String(v),
  cclm: d[0], bhm: d[1], upper: d[2], lower: d[3],
  yTicks: d[4], yMin: d[5], yMax: d[6], decimals: 0,
  title: 'PC ' + (i + 1), range: pcRanges[i], legend: false
}));
</script>
</body>
</html>
